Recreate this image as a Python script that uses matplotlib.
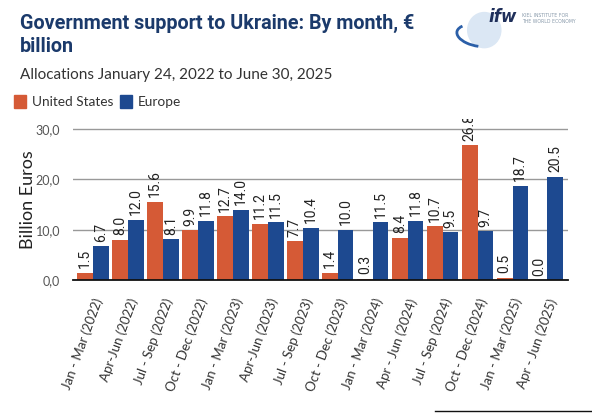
import matplotlib.pyplot as plt
from matplotlib.patches import Arc, Ellipse
import numpy as np

periods = ["Jan - Mar (2022)", "Apr-Jun (2022)", "Jul - Sep (2022)", "Oct - Dec (2022)",
           "Jan - Mar (2023)", "Apr-Jun (2023)", "Jul - Sep (2023)", "Oct - Dec (2023)",
           "Jan - Mar (2024)", "Apr - Jun (2024)", "Jul - Sep (2024)", "Oct - Dec (2024)",
           "Jan - Mar (2025)", "Apr - Jun (2025)"]
us = [1.5, 8.0, 15.6, 9.9, 12.7, 11.2, 7.7, 1.4, 0.3, 8.4, 10.7, 26.8, 0.5, 0.0]
europe = [6.7, 12.0, 8.1, 11.8, 14.0, 11.5, 10.4, 10.0, 11.5, 11.8, 9.5, 9.7, 18.7, 20.5]

us_color = "#d55a36"
eu_color = "#1d4990"
title_color = "#1b3a6b"

fig = plt.figure(figsize=(5.92, 4.18), dpi=100)
ax = fig.add_axes([0.123, 0.330, 0.836, 0.3855])

x = np.arange(len(periods))
w = 0.45
b1 = ax.bar(x - w / 2, us, w, color=us_color)
b2 = ax.bar(x + w / 2, europe, w, color=eu_color)

for bars, vals in ((b1, us), (b2, europe)):
    for rect, v in zip(bars, vals):
        t = ax.text(rect.get_x() + rect.get_width() / 2, v + 0.9, f"{v:.1f}",
                    rotation=90, ha="center", va="bottom", fontsize=10,
                    family="Roboto", color="#222222")
        # the top label is cut off by the plot area, like in the source
        t.set_clip_path(ax.patch)
        t.set_clip_on(True)

ax.set_xlim(-0.58, len(periods) - 0.42)
ax.set_ylim(0, 32.0)
ax.set_yticks([0, 10, 20, 30])
ax.set_yticklabels(["0,0", "10,0", "20,0", "30,0"], family="Lato", fontsize=9, color="#555555")
ax.set_xticks(x)
ax.set_xticklabels(periods, rotation=70, ha="right", rotation_mode="anchor",
                   family="Lato", fontsize=9.5, color="#333333")
ax.tick_params(axis="both", length=0)
ax.tick_params(axis="x", pad=12)
ax.tick_params(axis="y", pad=9)
ax.yaxis.grid(True, color="#999999", linewidth=1)
ax.set_axisbelow(True)
for s in ["top", "right", "left"]:
    ax.spines[s].set_visible(False)
ax.spines["bottom"].set_color("#111111")
ax.spines["bottom"].set_linewidth(1.3)
ax.set_ylabel("Billion Euros", family="Lato", fontsize=13, color="#222222", labelpad=0)

fig.text(0.034, 0.967, "Government support to Ukraine: By month, €\nbillion",
         family="Roboto", fontweight="bold", fontsize=14.2, color=title_color,
         va="top", linespacing=1.25)
fig.text(0.033, 0.821, "Allocations January 24, 2022 to June 30, 2025",
         family="Lato", fontsize=11, color="#333333", va="center")

# legend
fig.patches.append(plt.Rectangle((0.024, 0.742), 0.020, 0.031, color=us_color,
                                 transform=fig.transFigure, figure=fig))
fig.text(0.054, 0.757, "United States", family="Lato", fontsize=9.8, color="#333333", va="center")
fig.patches.append(plt.Rectangle((0.203, 0.742), 0.020, 0.031, color=eu_color,
                                 transform=fig.transFigure, figure=fig))
fig.text(0.233, 0.757, "Europe", family="Lato", fontsize=9.8, color="#333333", va="center")

# logo
fig.patches.append(Ellipse((0.818, 0.928), 0.056, 0.084, color="#dbe7f4",
                           transform=fig.transFigure, figure=fig))
fig.patches.append(Arc((0.808, 0.915), 0.075, 0.050, angle=-20, theta1=160, theta2=290,
                       color="#2b5fa8", linewidth=2, transform=fig.transFigure, figure=fig))
fig.text(0.825, 0.980, "ifw", family="DejaVu Sans", fontweight="bold", style="italic",
         fontsize=12, color="#1f2f5a", va="top")
fig.text(0.882, 0.968, "KIEL INSTITUTE FOR\nTHE WORLD ECONOMY", family="DejaVu Sans",
         fontsize=3.3, color="#8899aa", va="top", linespacing=1.2)

fig.add_artist(plt.Line2D([0.735, 1.0], [0.016, 0.016], color="#111111", linewidth=1,
                          transform=fig.transFigure))

fig.savefig("out.png", dpi=100, facecolor="white")
